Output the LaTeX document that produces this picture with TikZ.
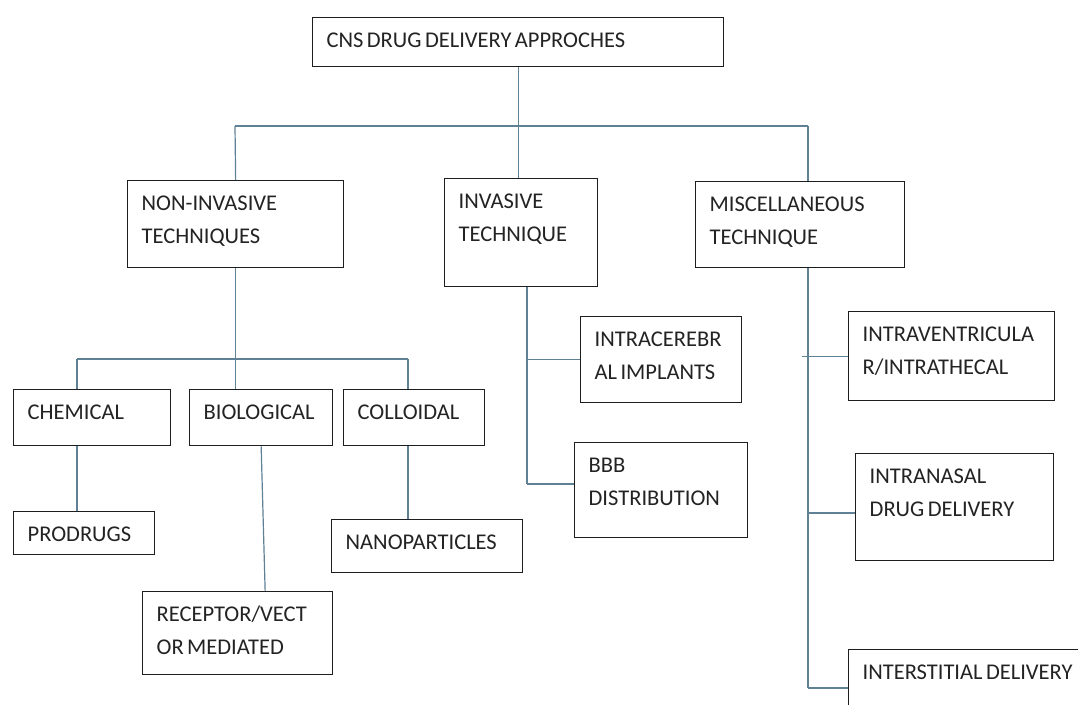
\documentclass[tikz,border=0pt]{standalone}
\usepackage{fontspec}
\setmainfont{Carlito}
\usepackage{xcolor}
\definecolor{linkblue}{RGB}{96,128,150}
\definecolor{boxgray}{RGB}{30,30,30}
\definecolor{textgray}{RGB}{35,35,35}

\begin{document}
\begin{tikzpicture}[x=1pt, y=-1pt,
    box/.style 2 args={draw=boxgray, line width=1.3pt, anchor=north west, align=left, fill=white,
        font=\fontsize{22.5}{33}\selectfont, text=textgray,
        execute at begin node={\spaceskip=3.4pt\relax},
        inner xsep=14pt, inner ysep=0pt, text height=30pt, text width=#1, text depth=#2},
    link/.style={draw=linkblue, line width=1.2pt}
]
    \useasboundingbox (0,0) rectangle (1078,704);
    \clip (0,0) rectangle (1078,704);

    \node[box={383pt}{19pt}] (cns)    at (312,17)  {CNS DRUG DELIVERY APPROCHES};
    \node[box={188pt}{57pt}] (noninv) at (127,180) {NON-INVASIVE\\TECHNIQUES};
    \node[box={125pt}{78pt}] (inv)    at (444,178) {INVASIVE\\TECHNIQUE};
    \node[box={181pt}{56pt}] (misc)   at (695,181) {MISCELLANEOUS\\TECHNIQUE};

    \node[box={129pt}{26pt}] (chem)   at (13,389)  {CHEMICAL};
    \node[box={115pt}{26pt}] (bio)    at (189,389) {BIOLOGICAL};
    \node[box={113pt}{26pt}] (coll)   at (343,389) {COLLOIDAL};
    \node[box={113pt}{13pt}] (prod)   at (13,511)  {PRODRUGS};
    \node[box={162pt}{53pt}] (rec)    at (142,591) {RECEPTOR/VECT\\OR MEDIATED};
    \node[box={163pt}{23pt}] (nano)   at (331,519) {NANOPARTICLES};

    \node[box={133pt}{56pt}] (intrac) at (580,316) {INTRACEREBR\\AL IMPLANTS};
    \node[box={145pt}{65pt}] (bbb)    at (574,442) {BBB\\DISTRIBUTION};

    \node[box={178pt}{59pt}] (intrav) at (848,311) {INTRAVENTRICULA\\R/INTRATHECAL};
    \node[box={170pt}{77pt}] (intran) at (855,453) {INTRANASAL\\DRUG DELIVERY};
    \node[box={232pt}{60pt}] (inters) at (848,649) {INTERSTITIAL DELIVERY};

    \coordinate (busL) at (235,126);
    \coordinate (busR) at (808,126);
    \draw[link] (cns.south) -- (cns.south |- busL);
    \draw[link] (busL) -- (busR);
    \draw[link] (busL) -- (noninv.north);
    \draw[link] (cns.south |- busL) -- (cns.south |- inv.north);
    \draw[link] (busR) -- (busR |- misc.north);

    \coordinate (nbusL) at (77,359);
    \coordinate (nbusR) at (408,359);
    \draw[link] (noninv.south) -- (noninv.south |- nbusL);
    \draw[link] (nbusL) -- (nbusR);
    \draw[link] (nbusL) -- (nbusL |- chem.north);
    \draw[link] (noninv.south |- nbusL) -- (noninv.south |- bio.north);
    \draw[link] (nbusR) -- (nbusR |- coll.north);
    \draw[link] (nbusL |- chem.south) -- (nbusL |- prod.north);
    \draw[link] (bio.south) -- ([xshift=4pt]bio.south |- rec.north);
    \draw[link] (nbusR |- coll.south) -- (nbusR |- nano.north);

    \coordinate (ispine) at (527,484);
    \draw[link] (ispine |- inv.south) -- (ispine);
    \draw[link] (ispine |- intrac.west) -- (intrac.west);
    \draw[link] (ispine) -- (ispine -| bbb.west);

    \coordinate (mspine) at (808,688);
    \coordinate (mnasal) at (808,513);
    \draw[link] (mspine |- misc.south) -- (mspine);
    \draw[link] ([xshift=-6pt]mspine |- intrav.west) -- (intrav.west);
    \draw[link] (mnasal) -- (mnasal -| intran.west);
    \draw[link] (mspine) -- (mspine -| inters.west);
\end{tikzpicture}
\end{document}
